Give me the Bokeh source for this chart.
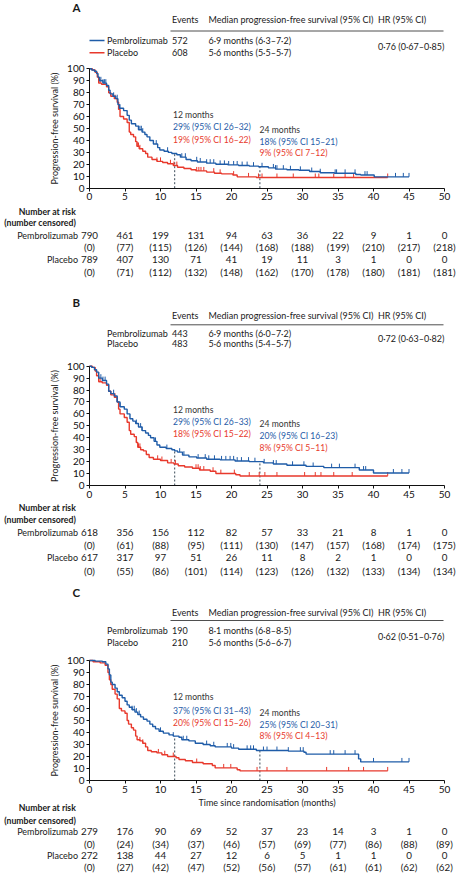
from bokeh.plotting import figure
from bokeh.models import Range1d, FixedTicker, LinearAxis
from bokeh.core.properties import value
from bokeh.embed import file_html
from bokeh.resources import INLINE

FONT = "Lato"
BLUE = "#1f5ca8"
RED = "#e8392c"
GREY = "#3a4a58"
INK = "#1a1a1a"
W, H = 457, 873
LEFT = 89            # page x of month 0
PXM = 355 / 50       # page px per month

# ---------------- data ----------------
tick_months = [0, 5, 10, 15, 20, 25, 30, 35, 40, 45, 50]
y_ticks = [0, 10, 20, 30, 40, 50, 60, 70, 80, 90, 100]
arms = ["Pembrolizumab", "Placebo"]

# Panel A (all patients)
A_pem_t = [0.3, 0.7, 1.0, 1.2, 1.4, 1.9, 2.4, 2.7, 2.9, 3.3, 3.7, 4.0, 4.2, 4.8, 5.3, 5.6, 5.9, 6.5, 6.9, 7.4,
           7.8, 8.1, 8.5, 9.0, 9.6, 9.9, 10.5, 11.1, 11.6, 12.3, 12.8, 13.6, 14.3, 15.2, 16.5, 17.8, 19.5, 21.0,
           22.5, 23.8, 25.2, 26.2, 27.8, 29.5, 31.0, 32.5, 34.5, 37.5, 38.2, 40.1]
A_pem_s = [99, 98, 96, 93, 90, 88, 86, 82, 79, 77, 75, 70, 67, 65, 61, 57, 54, 52, 49, 47,
           45, 43, 40, 37, 34, 32, 31, 30, 29, 28, 26, 24, 23, 22, 21, 20, 19.5, 19,
           18.5, 18, 17, 16, 15.5, 15, 14, 13, 12.5, 11.5, 11, 9.5]
A_pem_end = 45
A_pem_cens = [1.6, 1.9, 2.1, 2.3, 3.4, 3.9, 4.3, 6.9, 7.1, 7.3, 7.5, 9.4, 11.0, 13.0, 13.5, 15.1, 15.6, 16.5,
              17.0, 17.5, 18.4, 19.0, 19.6, 20.3, 20.8, 21.5, 22.2, 23.1, 24.3, 25.9, 26.2, 26.4, 27.3, 28.3,
              29.7, 31.3, 32.5, 34.6, 34.8, 36.0, 37.4, 38.8, 39.1, 43.1, 44.2, 45.0]
A_pla_t = [0.4, 0.8, 1.1, 1.3, 1.7, 2.4, 2.7, 3.0, 3.5, 3.9, 4.1, 4.3, 4.8, 5.3, 5.6, 5.8, 6.2, 6.5, 6.7, 7.0,
           7.5, 7.9, 8.2, 8.8, 9.5, 10.3, 11.0, 11.8, 12.4, 13.3, 14.3, 15.0, 16.5, 17.6, 18.6, 20.2, 20.8, 23.5]
A_pla_s = [99, 97, 93, 88, 87, 85, 80, 77, 75, 72, 66, 60, 58, 55, 47, 45, 43, 39, 35, 33,
           31, 29, 26, 24, 22.5, 21.5, 20.5, 19, 17.5, 16.5, 15.5, 14.5, 13.5, 12.5, 12, 11, 9.5, 9]
A_pla_end = 42
A_pla_cens = [1.5, 3.6, 6.7, 6.9, 7.1, 9.5, 10.0, 11.4, 11.9, 12.3, 15.1, 15.4, 15.7, 16.1, 17.5, 18.4, 20.3,
              22.4, 23.8, 24.3, 26.4, 28.7, 31.8, 32.3, 34.4, 36.0, 37.2, 42.0]
A_pem_risk = [790, 461, 199, 131, 94, 63, 36, 22, 9, 1, 0]
A_pem_censored = [0, 77, 115, 126, 144, 168, 188, 199, 210, 217, 218]
A_pla_risk = [789, 407, 130, 71, 41, 19, 11, 3, 1, 0, 0]
A_pla_censored = [0, 71, 112, 132, 148, 162, 170, 178, 180, 181, 181]
A_events = ["572", "608"]
A_median = ["6·9 months (6·3–7·2)", "5·6 months (5·5–5·7)"]
A_hr = "0·76 (0·67–0·85)"
A_m12 = ["29% (95% CI 26–32)", "19% (95% CI 16–22)"]
A_m24 = ["18% (95% CI 15–21)", "9% (95% CI 7–12)"]

# Panel B
B_pem_t = [0.3, 0.7, 1.0, 1.3, 1.8, 2.4, 2.7, 3.0, 3.5, 3.9, 4.3, 4.9, 5.3, 5.7, 6.1, 6.5, 6.9, 7.4, 7.9, 8.3,
           8.6, 9.1, 9.5, 9.9, 10.8, 11.6, 12.0, 12.4, 13.1, 14.0, 15.1, 16.5, 18.4, 20.5, 22.5, 24.5, 25.9,
           27.8, 30.5, 33.0, 38.0, 40.0]
B_pem_s = [99, 97, 95, 90, 88, 85, 79, 77, 75, 70, 66, 64, 60, 56, 54, 52, 49, 46, 44, 42,
           40, 37, 34, 32, 31, 30, 29, 28, 25.5, 24, 23, 22, 21.5, 20.5, 20, 19, 18,
           17, 16, 15, 13, 10.5]
B_pem_end = 45
B_pem_cens = [1.6, 1.9, 2.2, 3.4, 3.9, 4.3, 6.6, 6.9, 7.2, 7.4, 9.3, 10.9, 12.7, 13.3, 15.3, 16.3, 16.8, 17.6,
              18.6, 19.2, 19.8, 20.3, 20.8, 21.4, 22.4, 23.3, 24.6, 25.9, 26.3, 28.6, 30.2, 31.5, 34.1, 35.2,
              37.4, 38.6, 38.9, 42.8, 44.0, 45.0]
B_pla_t = [0.4, 0.8, 1.0, 1.3, 1.8, 2.4, 2.7, 3.0, 3.5, 3.9, 4.1, 4.3, 4.9, 5.3, 5.6, 5.8, 6.3, 6.6, 6.8, 7.2,
           7.6, 8.0, 8.4, 9.0, 10.0, 11.0, 11.9, 12.5, 13.4, 14.5, 15.5, 17.0, 17.8, 20.6, 21.2]
B_pla_s = [99, 96, 92, 87, 86, 84, 79, 76, 74, 70, 64, 60, 57, 53, 46, 43, 41, 36, 32, 30,
           29, 26, 23.5, 22, 21, 19, 18, 16.5, 15.5, 14.5, 13, 12, 10, 9, 8]
B_pla_end = 42
B_pla_cens = [1.5, 3.6, 6.6, 6.9, 7.1, 9.6, 10.2, 11.5, 12.1, 15.0, 15.3, 15.6, 16.1, 17.4, 18.5, 20.4, 22.5,
              23.9, 24.7, 26.4, 30.3, 31.8, 32.6, 34.4, 37.0, 42.0]
B_pem_risk = [618, 356, 156, 112, 82, 57, 33, 21, 8, 1, 0]
B_pem_censored = [0, 61, 88, 95, 111, 130, 147, 157, 168, 174, 175]
B_pla_risk = [617, 317, 97, 51, 26, 11, 8, 2, 1, 0, 0]
B_pla_censored = [0, 55, 86, 101, 114, 123, 126, 132, 133, 134, 134]
B_events = ["443", "483"]
B_median = ["6·9 months (6·0–7·2)", "5·6 months (5·4–5·7)"]
B_hr = "0·72 (0·63–0·82)"
B_m12 = ["29% (95% CI 26–33)", "18% (95% CI 15–22)"]
B_m24 = ["20% (95% CI 16–23)", "8% (95% CI 5–11)"]

# Panel C
C_pem_t = [0.8, 1.8, 2.3, 2.6, 2.8, 3.0, 3.2, 3.6, 3.9, 4.2, 4.6, 5.0, 5.3, 5.6, 6.0, 6.4, 6.8, 7.2, 7.6, 8.1,
           8.5, 8.9, 9.3, 9.8, 10.4, 11.2, 11.8, 12.6, 13.0, 14.0, 14.9, 16.0, 17.0, 17.7, 20.0, 21.0, 23.5,
           28.0, 30.2, 30.5, 37.9, 38.2]
C_pem_s = [99.5, 99, 97, 93, 88, 82, 80, 77, 74, 71, 69, 66, 63, 61, 59, 57, 55, 53, 51, 49.5,
           47, 45, 43, 41, 39.5, 38, 37, 36, 34, 33, 31, 30, 29, 28, 27, 26, 25,
           24.5, 23.5, 22, 18, 15.5]
C_pem_end = 45
C_pem_cens = [6.0, 6.3, 6.6, 7.0, 10.0, 11.8, 13.2, 13.7, 16.5, 17.5, 19.4, 19.9, 20.3, 22.2, 22.7, 23.1, 24.5,
              25.0, 26.4, 28.0, 29.7, 30.1, 33.9, 34.4, 36.0, 37.4, 40.0, 44.0, 45.0]
C_pla_t = [0.5, 1.5, 2.2, 2.6, 2.8, 3.0, 3.2, 3.6, 3.9, 4.2, 4.5, 5.0, 5.3, 5.5, 5.9, 6.2, 6.5, 6.7, 7.1, 7.5,
           7.9, 8.2, 8.7, 9.5, 10.2, 11.0, 12.2, 12.6, 13.5, 14.5, 16.0, 17.3, 17.7, 20.8, 21.2]
C_pla_s = [99, 98, 96, 90, 84, 80, 76, 72, 68, 60, 58, 56, 50, 47, 44, 42, 37, 34, 33, 31,
           28, 25, 24, 23, 21.5, 20, 19, 17.5, 16.5, 15, 14, 12.5, 10.5, 9, 8]
C_pla_end = 42
C_pla_cens = [7.1, 7.5, 9.7, 10.6, 11.8, 15.1, 18.9, 19.9, 23.6, 25.0, 27.8, 33.4, 36.5, 38.6, 42.0]
C_pem_risk = [279, 176, 90, 69, 52, 37, 23, 14, 3, 1, 0]
C_pem_censored = [0, 24, 34, 37, 46, 57, 69, 77, 86, 88, 89]
C_pla_risk = [272, 138, 44, 27, 12, 6, 5, 1, 1, 0, 0]
C_pla_censored = [0, 27, 42, 47, 52, 56, 57, 61, 61, 62, 62]
C_events = ["190", "210"]
C_median = ["8·1 months (6·8–8·5)", "5·6 months (5·6–6·7)"]
C_hr = "0·62 (0·51–0·76)"
C_m12 = ["37% (95% CI 31–43)", "20% (95% CI 15–26)"]
C_m24 = ["25% (95% CI 20–31)", "8% (95% CI 4–13)"]


# ---------------- figure ----------------
# One canvas: x in months (month 0 at page x=89), default y in page pixels
# (top-down); each survival panel has its own y range in percent.
p = figure(width=W, height=H,
           x_range=Range1d(-LEFT / PXM, (W - LEFT) / PXM), y_range=Range1d(H, 0),
           output_backend="svg", toolbar_location=None,
           x_axis_location=None, y_axis_location=None,
           min_border=0, min_border_left=0, min_border_right=0,
           min_border_top=0, min_border_bottom=0)
p.xgrid.visible = False
p.ygrid.visible = False
p.outline_line_color = None
p.extra_x_ranges = {"px": Range1d(0, W)}


def surv_at(times, surv, t):
    v = 100
    for ti, si in zip(times, surv):
        if ti <= t:
            v = si
    return v


def m(px):
    """page x -> months"""
    return (px - LEFT) / PXM


def txt(x, y, text, color=INK, size="9px", align="left", style="normal", **kw):
    p.text(x=x, y=y, text=text, text_color=color, text_font=value(FONT),
           text_font_size=size, text_align=align, text_baseline="middle",
           text_font_style=style, **kw)


def header(letter, ys, events, medians, hr, legend):
    y_letter, y_head, y_rule, y1, y2 = ys
    txt([72], [y_letter], [letter], size="11.5px", style="bold", x_range_name="px")
    txt([171.5, 208, 377.5], [y_head] * 3,
        ["Events", "Median progression-free survival (95% CI)", "HR (95% CI)"], x_range_name="px")
    p.segment(x0=[170], y0=[y_rule], x1=[443], y1=[y_rule], line_color="#222",
              line_width=0.8, x_range_name="px")
    if legend:
        p.segment(x0=[89, 89], y0=[y1, y2], x1=[104, 104], y1=[y1, y2],
                  line_color=[BLUE, RED], line_width=1.5, x_range_name="px")
    txt([106.5, 106.5], [y1, y2], arms, x_range_name="px")
    txt([171.5, 171.5], [y1, y2], events, x_range_name="px")
    txt([208, 208], [y1, y2], medians, x_range_name="px")
    txt([377.5], [(y1 + y2) / 2], [hr], x_range_name="px")


def survival(name, y0, k, pem, pla, m12, m24, ann_y):
    # y range in percent: 0 % at page y0, k page px per percent
    p.extra_y_ranges[name] = Range1d((y0 - H) / k, y0 / k)

    yax = LinearAxis(y_range_name=name, fixed_location=0, bounds=(0, 100),
                     ticker=FixedTicker(ticks=y_ticks),
                     axis_label="Progression-free survival (%)")
    xax = LinearAxis(y_range_name=name, fixed_location=0, bounds=(0, 50),
                     ticker=FixedTicker(ticks=tick_months))
    for ax in (xax, yax):
        ax.major_tick_out = 3
        ax.major_tick_in = 0
        ax.minor_tick_out = 0
        ax.minor_tick_in = 0
        ax.axis_line_color = "#111"
        ax.major_tick_line_color = "#111"
        ax.major_label_text_font = FONT
        ax.major_label_text_font_size = "10px"
        ax.major_label_text_color = "#111"
        ax.major_label_standoff = 2
    yax.axis_label_text_font = FONT
    yax.axis_label_text_font_size = "9px"
    yax.axis_label_text_font_style = "normal"
    yax.axis_label_text_color = INK
    yax.axis_label_standoff = 4
    p.add_layout(yax, "left")
    p.add_layout(xax, "below")

    # 12- and 24-month reference lines up to the pembrolizumab curve
    pt, ps, _, _ = pem
    p.segment(x0=[12, 24], y0=[0, 0], x1=[12, 24],
              y1=[surv_at(pt, ps, 12), surv_at(pt, ps, 24)],
              line_color=GREY, line_dash="2 2", line_width=1, y_range_name=name)

    for (t, s, end, cens), col in ((pla, RED), (pem, BLUE)):
        xs = [0] + t + [end]
        ys = [100] + s + [s[-1]]
        p.step(xs, ys, mode="after", line_color=col, line_width=1.4, y_range_name=name)
        cy = [surv_at(t, s, c) for c in cens]
        p.segment(x0=cens, y0=cy, x1=cens, y1=[v + 3.3 for v in cy],
                  line_color=col, line_width=1, y_range_name=name)

    a1, a2, a3, b1, b2, b3 = ann_y
    txt([11.75] * 3, [a1, a2, a3], ["12 months"] + m12,
        color=["#333333", BLUE, RED], size="8.6px")
    txt([23.95] * 3, [b1, b2, b3], ["24 months"] + m24,
        color=["#333333", BLUE, RED], size="8.6px")


def risk_table(ys, pem_risk, pem_cens, pla_risk, pla_cens):
    y_nar, y_nc, y1, y1c, y2, y2c = ys
    txt([m(75.5)] * 2, [y_nar, y_nc], ["Number at risk", "(number censored)"],
        size="8.7px", align="right", style="bold")
    txt([m(77.5)] * 2, [y1, y2], arms, align="right")
    n = len(tick_months)
    for yy, vals in ((y1, [str(v) for v in pem_risk]),
                     (y1c, [f"({v})" for v in pem_cens]),
                     (y2, [str(v) for v in pla_risk]),
                     (y2c, [f"({v})" for v in pla_cens])):
        txt(tick_months, [yy] * n, vals, size="9.8px", align="center")


# ---------------- panels ----------------
header("A", (7, 19, 30.5, 40, 52.3), A_events, A_median, A_hr, legend=True)
survival("A", 187.7, 1.194, (A_pem_t, A_pem_s, A_pem_end, A_pem_cens),
         (A_pla_t, A_pla_s, A_pla_end, A_pla_cens), A_m12, A_m24,
         (114, 126.7, 139, 129, 141, 152.7))
risk_table((210.5, 221.7, 235, 246.7, 259.3, 271.7),
           A_pem_risk, A_pem_censored, A_pla_risk, A_pla_censored)

header("B", (302.3, 315, 324.3, 333.3, 343.3), B_events, B_median, B_hr, legend=False)
survival("B", 485, 1.193, (B_pem_t, B_pem_s, B_pem_end, B_pem_cens),
         (B_pla_t, B_pla_s, B_pla_end, B_pla_cens), B_m12, B_m24,
         (409, 421.7, 433.3, 423.3, 435.7, 447.3))
risk_table((507, 519.3, 531.7, 544.3, 557.3, 570),
           B_pem_risk, B_pem_censored, B_pla_risk, B_pla_censored)

header("C", (592, 611.7, 620, 630, 642.3), C_events, C_median, C_hr, legend=False)
survival("C", 780, 1.2, (C_pem_t, C_pem_s, C_pem_end, C_pem_cens),
         (C_pla_t, C_pla_s, C_pla_end, C_pla_cens), C_m12, C_m24,
         (696.7, 710, 722.3, 712.3, 724, 735.7))
txt([25], [801.7], ["Time since randomisation (months)"], align="center")
risk_table((807.3, 819.5, 831, 843, 855, 866.3),
           C_pem_risk, C_pem_censored, C_pla_risk, C_pla_censored)

open("out.html", "w").write(file_html(p, INLINE))
